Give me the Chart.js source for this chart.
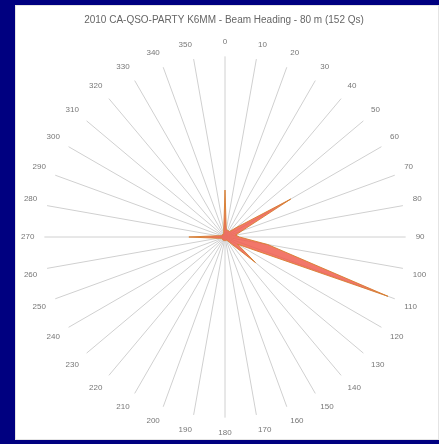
<!DOCTYPE html>
<html lang="en">
<head>
    <meta charset="UTF-8">
    <title>Beam Heading</title>
    <script src="https://cdn.jsdelivr.net/npm/chart.js"></script>
    <style>
        html, body { margin: 0; padding: 0; background: #000080; }
        #panel {
            position: absolute;
            left: 15px; top: 5px;
            width: 422px; height: 433px;
            background: #fff;
            border: 1px solid #e4e4e4;
        }
        #panel canvas { display: block; }
    </style>
</head>
<body>
    <div id="panel"><canvas id="beamChart" width="422" height="433"></canvas></div>

    <script>
    // Headings (degrees) and QSO counts per heading
    const headings = ['0', '10', '20', '30', '40', '50', '60', '70', '80', '90', '100', '110',
                      '120', '130', '140', '150', '160', '170', '180', '190', '200', '210', '220', '230',
                      '240', '250', '260', '270', '280', '290', '300', '310', '320', '330', '340', '350'];
    const qsoCounts = [13, 2, 2, 2, 2, 4, 21, 5, 3, 4, 12, 48,
                       4, 11, 2, 1, 1, 1, 1, 1, 1, 1, 1, 1,
                       1, 1, 2, 10, 2, 1, 1, 1, 1, 1, 1, 2];
    const scaleMax = 50;

    new Chart(document.getElementById('beamChart'), {
        type: 'radar',
        data: {
            labels: headings,
            datasets: [{
                label: 'QSOs',
                data: qsoCounts,
                backgroundColor: 'rgba(240, 95, 80, 0.85)',
                borderColor: 'rgba(215, 125, 45, 0.9)',
                borderWidth: 1,
                pointRadius: 0
            }]
        },
        options: {
            responsive: false,
            animation: false,
            layout: { padding: { top: 2, bottom: 0, left: 4, right: 10 } },
            plugins: {
                legend: { display: false },
                tooltip: { enabled: false },
                title: {
                    display: true,
                    text: '2010 CA-QSO-PARTY K6MM - Beam Heading - 80 m (152 Qs)',
                    color: '#666',
                    font: { family: 'Liberation Sans', size: 10, weight: 'normal' },
                    padding: { top: 6, bottom: 10 }
                }
            },
            scales: {
                r: {
                    min: 0,
                    max: scaleMax,
                    ticks: { display: false },
                    grid: { display: false },
                    angleLines: { color: '#d0d0d0', lineWidth: 1 },
                    pointLabels: {
                        color: '#777',
                        padding: 10,
                        font: { family: 'Liberation Sans', size: 8 }
                    }
                }
            }
        }
    });
    </script>
</body>
</html>
